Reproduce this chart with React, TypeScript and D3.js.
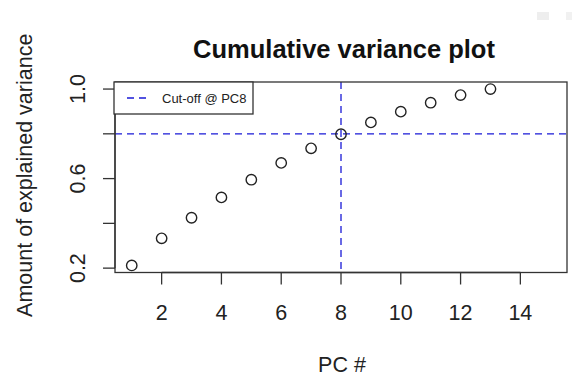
import React from "react";
import * as d3 from "d3";

const pcs = [1, 2, 3, 4, 5, 6, 7, 8, 9, 10, 11, 12, 13];
const cumVariance = [0.212, 0.333, 0.425, 0.516, 0.595, 0.670, 0.735, 0.798, 0.851, 0.899, 0.939, 0.973, 1.0];
const xTicks = [2, 4, 6, 8, 10, 12, 14];
const yTicks = [0.2, 0.4, 0.6, 0.8, 1.0];
const yTickLabels = ["0.2", "", "0.6", "", "1.0"];
const xLimits = [1, 15];
const cutoffPC = 8;
const cutoffVar = 0.8;
const title = "Cumulative variance plot";
const xLabel = "PC #";
const yLabel = "Amount of explained variance";
const legendLabel = "Cut-off @ PC8";

const W = 577;
const H = 376;
const L = 115, R = 567, T = 82, B = 272.5;
const FONT = "'Liberation Sans', Arial, Helvetica, sans-serif";
const AXIS = "#333";
const BLUE = "#1a1ad6";

function ext(lo: number, hi: number): [number, number] {
  const d = (hi - lo) * 0.04;
  return [lo - d, hi + d];
}

export default function App() {
  const x = d3.scaleLinear().domain(ext(xLimits[0], xLimits[1])).range([L, R]);
  const yMin = d3.min(cumVariance) as number;
  const yMax = d3.max(cumVariance) as number;
  const y = d3.scaleLinear().domain(ext(yMin, yMax)).range([B, T]);
  const cx = (L + R) / 2;
  const cy = (T + B) / 2;

  return (
    <svg width={W} height={H} style={{ position: "absolute", left: 0, top: 0, background: "#fff" }} fontFamily={FONT}>
      <rect x={0} y={0} width={W} height={H} fill="#fff" />
      {/* title */}
      <text x={cx + 3} y={58} textAnchor="middle" fontSize={25.5} fontWeight="bold" fill="#111">{title}</text>

      {/* abline cut-offs */}
      <line x1={x(cutoffPC)} x2={x(cutoffPC)} y1={T} y2={B} stroke={BLUE} strokeWidth={1.3} strokeDasharray="7,5" />
      <line x1={L} x2={R} y1={y(cutoffVar)} y2={y(cutoffVar)} stroke={BLUE} strokeWidth={1.3} strokeDasharray="7,5" />

      {/* points */}
      {pcs.map((p, i) => (
        <circle key={p} cx={x(p)} cy={y(cumVariance[i])} r={5.2} fill="none" stroke="#222" strokeWidth={1.4} />
      ))}

      {/* x axis */}
      <line x1={x(xTicks[0])} x2={x(xTicks[xTicks.length - 1])} y1={B} y2={B} stroke={AXIS} strokeWidth={1.3} />
      {xTicks.map((t) => (
        <g key={t}>
          <line x1={x(t)} x2={x(t)} y1={B} y2={B + 12} stroke={AXIS} strokeWidth={1.3} />
          <text x={x(t)} y={320} textAnchor="middle" fontSize={21.5} fill="#222">{t}</text>
        </g>
      ))}

      {/* y axis */}
      <line x1={L} x2={L} y1={y(yTicks[0])} y2={y(yTicks[yTicks.length - 1])} stroke={AXIS} strokeWidth={1.3} />
      {yTicks.map((t, i) => (
        <g key={t}>
          <line x1={L} x2={L - 12} y1={y(t)} y2={y(t)} stroke={AXIS} strokeWidth={1.3} />
          {yTickLabels[i] && (
            <text transform={`translate(85,${y(t)}) rotate(-90)`} textAnchor="middle" fontSize={21.5} fill="#222">{yTickLabels[i]}</text>
          )}
        </g>
      ))}

      {/* box */}
      <rect x={L} y={T} width={R - L} height={B - T} fill="none" stroke={AXIS} strokeWidth={1.3} />

      {/* axis labels */}
      <text x={cx + 1} y={371.5} textAnchor="middle" fontSize={21.5} fill="#222">{xLabel}</text>
      <text transform={`translate(32,${cy - 2}) rotate(-90)`} textAnchor="middle" fontSize={21.5} fill="#222">{yLabel}</text>

      {/* legend */}
      <rect x={L - 1} y={T} width={139} height={32} fill="#fff" stroke={AXIS} strokeWidth={1.3} />
      <line x1={127} x2={151} y1={98} y2={98} stroke={BLUE} strokeWidth={1.3} strokeDasharray="7,5" />
      <text x={162} y={102.5} fontSize={13} fill="#222">{legendLabel}</text>

      {/* faint viewer icons */}
      <rect x={537} y={12} width={12} height={8} fill="#eee" />
      <rect x={566} y={12} width={6} height={8} fill="#f1f1f1" />
    </svg>
  );
}
